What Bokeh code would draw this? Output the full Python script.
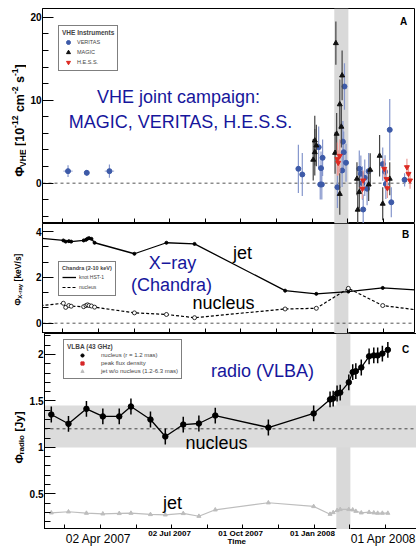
import numpy as np
from bokeh.plotting import figure
from bokeh.layouts import column, row
from bokeh.models import (ColumnDataSource, BoxAnnotation, Span, Label, Legend,
                          LegendItem, FixedTicker, SingleIntervalTicker, Range1d)
from bokeh.embed import file_html
from bokeh.resources import INLINE

# ------------------------------------------------------------------ data
TICK_DATES = ["2007-04-02", "2007-07-02", "2007-10-01", "2008-01-01", "2008-04-01"]
TICK_LABELS = ["02 Apr 2007", "02 Jul 2007", "01 Oct 2007", "01 Jan 2008", "01 Apr 2008"]
X_START, X_END = "2007-01-20T07:00", "2008-05-10T17:00"
FLARE = ["2008-01-29", "2008-02-16"]

# (A) VHE  [1e-12 cm^-2 s^-1]
VERITAS07_DATES = ["2007-02-22", "2007-03-18", "2007-04-16"]
VERITAS07_FLUX = [1.45, 1.25, 1.45]
VERITAS07_ERR = [0.7, 0.35, 0.8]
VERITAS07_BIN = [6, 3, 6]          # half width of time bin, days

VERITAS_DATES = ["2007-12-14", "2007-12-19", "2008-01-09", "2008-01-11", "2008-01-12",
                 "2008-01-13", "2008-01-14", "2008-02-02", "2008-02-08", "2008-02-09",
                 "2008-02-10", "2008-02-11", "2008-02-13", "2008-03-01", "2008-03-03",
                 "2008-03-05", "2008-03-06", "2008-03-08", "2008-03-11", "2008-03-13",
                 "2008-03-31", "2008-04-03", "2008-04-04", "2008-04-09", "2008-04-11",
                 "2008-04-28"]
VERITAS_FLUX = [1.73, 1.05, 4.34, -0.16, 1.81, -0.16, 3.06, -0.48, 1.53, 5.0,
                3.73, 11.65, 2.46, 1.73, 1.13, 0.0, -3.17, 0.65, -0.67, 1.45,
                2.3, 1.37, -0.1, 6.43, -2.3, 0.41]
VERITAS_ERR = [2.9, 2.6, 2.5, 1.8, 2.0, 1.8, 2.2, 2.5, 2.0, 2.5,
               2.5, 2.8, 2.3, 2.2, 2.2, 2.0, 1.8, 2.2, 2.0, 2.2,
               2.0, 2.0, 1.8, 3.7, 1.8, 0.8]

MAGIC_DATES = ["2008-01-02", "2008-01-04", "2008-01-04", "2008-01-06", "2008-01-30",
               "2008-01-31", "2008-02-01", "2008-02-05", "2008-02-05", "2008-02-07",
               "2008-02-08", "2008-02-27", "2008-02-28", "2008-03-01", "2008-03-13",
               "2008-03-15", "2008-03-27", "2008-03-31", "2008-04-09"]
MAGIC_FLUX = [2.82, 3.73, 5.14, 4.54, 3.65, 16.87, 5.95, 9.5, -1.3, 6.8,
              12.98, 0.53, -3.2, -1.08, -0.16, 1.61, 3.3, -2.48, 0.53]
MAGIC_ERR = [2.5, 2.8, 3.0, 2.5, 2.5, 2.6, 2.5, 3.0, 2.5, 2.5,
             3.0, 2.0, 2.2, 2.0, 2.0, 2.0, 2.5, 2.0, 2.0]

HESS_DATES = ["2008-02-02", "2008-02-03", "2008-02-05", "2008-03-05", "2008-03-06",
              "2008-04-02", "2008-04-05", "2008-04-06", "2008-05-01", "2008-05-03",
              "2008-05-05"]
HESS_FLUX = [2.9, 2.46, 3.3, -0.67, 0.33, 1.73, 0.5, -0.6, 1.93, 1.13, 0.33]
HESS_ERR = [2.0, 1.5, 2.0, 1.2, 1.2, 1.2, 1.2, 1.2, 1.0, 1.0, 1.0]

# (B) Chandra 2-10 keV  [keV/s]
CHANDRA_DATES = ["2007-01-05", "2007-02-16", "2007-02-19", "2007-02-23", "2007-02-26",
                 "2007-03-14", "2007-03-17", "2007-03-19", "2007-03-21", "2007-03-24",
                 "2007-03-28", "2007-05-18", "2007-06-28", "2007-08-03", "2007-11-27",
                 "2008-01-06", "2008-02-16", "2008-03-31", "2008-05-25"]
KNOT_HST1 = [3.75, 3.61, 3.56, 3.58, 3.56, 3.61, 3.64, 3.69, 3.71, 3.68,
             3.51, 3.03, 3.51, 3.46, 1.42, 1.28, 1.38, 1.54, 1.42]
XRAY_NUCLEUS = [0.72, 0.87, 0.69, 0.77, 0.74, 0.72, 0.77, 0.80, 0.77, 0.75,
                0.70, 0.45, 0.38, 0.24, 0.62, 0.65, 1.52, 0.77, 0.53]

# (C) VLBA 43 GHz  [Jy]
VLBA_DATES = ["2007-01-29", "2007-02-20", "2007-03-15", "2007-04-05", "2007-04-26",
              "2007-05-11", "2007-06-05", "2007-06-24", "2007-07-17", "2007-08-06",
              "2007-08-27", "2007-11-03", "2007-12-31", "2008-01-21", "2008-01-25",
              "2008-01-30", "2008-02-03", "2008-02-14", "2008-02-19", "2008-02-23",
              "2008-03-01", "2008-03-11", "2008-03-17", "2008-03-22", "2008-03-28",
              "2008-04-04"]
VLBA_NUCLEUS = [1.354, 1.254, 1.415, 1.333, 1.333, 1.44, 1.30, 1.117, 1.246, 1.257,
                1.343, 1.214, 1.365, 1.516, 1.526, 1.58, 1.59, 1.70, 1.81, 1.82,
                1.86, 1.98, 1.99, 1.99, 2.01, 2.05]
VLBA_NUCLEUS_ERR = [0.085, 0.085, 0.085, 0.085, 0.085, 0.085, 0.085, 0.085, 0.085, 0.085,
                    0.085, 0.085, 0.085, 0.085, 0.085, 0.085, 0.085, 0.085, 0.085, 0.085,
                    0.085, 0.085, 0.085, 0.085, 0.085, 0.085]
VLBA_JET = [0.296, 0.307, 0.292, 0.285, 0.289, 0.292, 0.278, 0.274, 0.289, 0.259,
            0.328, 0.404, 0.364, 0.281, 0.299, 0.321, 0.332, 0.332, 0.328, 0.313,
            0.296, 0.302, 0.296, 0.292, 0.292, 0.292]
NUCLEUS_BAND = [1.0, 1.45]
NUCLEUS_MEAN = 1.2

# ------------------------------------------------------------------ helpers
EPOCH = np.datetime64("2007-01-01T00:00")


def to_days(dates):
    return [float((np.datetime64(d) - EPOCH) / np.timedelta64(1, "D")) for d in dates]


FONT = "Liberation Sans"
BLUE_TXT = "#16169c"
C_VER, C_VER_E = "#3d5aa8", "#8596cc"
C_MAG, C_MAG_E = "#111111", "#444444"
C_HES, C_HES_E = "#dd2a22", "#eb9a94"

LEFT, STRIP_W, FRAME_W, RIGHT = 16, 26, 372, 2
x0, x1 = to_days([X_START, X_END])
xr = Range1d(x0, x1)
px_per_day = FRAME_W / (x1 - x0)
tick_days = to_days(TICK_DATES)
all_ticks = [tick_days[0] - (tick_days[1] - tick_days[0]) / 2]
for a, b in zip(tick_days[:-1], tick_days[1:]):
    all_ticks += [a, (a + b) / 2]
all_ticks.append(tick_days[-1])

BW = {"Φ": 0.78, "V": 0.667, "H": 0.722, "E": 0.667, "X": 0.667, "J": 0.556,
      "[": 0.333, "]": 0.333, "-": 0.333, "/": 0.278, " ": 0.278, "c": 0.556,
      "m": 0.889, "s": 0.556, "k": 0.556, "e": 0.556, "r": 0.389, "a": 0.556,
      "d": 0.611, "i": 0.278, "o": 0.611, "y": 0.556}


def tw(t, size):
    return sum(BW.get(c, 0.556) for c in t) * size


def strip(height, width=STRIP_W, xrange=None):
    s = figure(frame_width=width, frame_height=height, output_backend="svg",
               toolbar_location=None, x_axis_type=None, y_axis_type=None,
               min_border=0, x_range=xrange or Range1d(0, 1), y_range=Range1d(0, 1),
               background_fill_color="white", border_fill_color="white")
    s.outline_line_color = None
    s.grid.visible = False
    return s


def rot_label(p, pieces, sx, sy_center, main, sub, dsub, dsup):
    total = sum(tw(t, main if k == 0 else sub) for t, k in pieces)
    y = sy_center - total / 2
    for t, k in pieces:
        size = main if k == 0 else sub
        lead = len(t) - len(t.lstrip(" "))
        y += tw(" " * lead, size)
        t2 = t.strip(" ")
        shift = {0: 0, 1: dsub, 2: -dsup}[k]
        p.add_layout(Label(x=sx + shift, y=y, x_units="screen", y_units="screen", text=t2,
                           angle=np.pi / 2, text_font=FONT, text_font_size=f"{size}px",
                           text_font_style="bold", text_align="left",
                           text_baseline="alphabetic", text_color="black"))
        y += tw(t2, size)


def text(p, s, sx, sy, size=18, color="black", style="normal", xu="screen"):
    p.add_layout(Label(x=sx, y=sy, x_units=xu, y_units="screen", text=s, text_font=FONT,
                       text_font_size=f"{size}px", text_color=color, text_font_style=style,
                       text_align="center", text_baseline="middle"))


def make_fig(frame_h, yrange, top, interval, nminor):
    p = figure(frame_width=FRAME_W, frame_height=frame_h, x_range=xr,
               y_range=Range1d(*yrange), output_backend="svg", toolbar_location=None,
               min_border_left=LEFT, min_border_right=RIGHT, min_border_top=top,
               min_border_bottom=0, background_fill_color="white",
               border_fill_color="white")
    p.grid.visible = False
    p.outline_line_color = "black"
    p.outline_line_width = 1
    p.outline_line_alpha = 1
    ya = p.yaxis[0]
    ya.ticker = SingleIntervalTicker(interval=interval, num_minor_ticks=nminor)
    ya.major_tick_in, ya.major_tick_out = 11, 0
    ya.minor_tick_in, ya.minor_tick_out = 6, 0
    ya.major_tick_line_color = "black"
    ya.minor_tick_line_color = "black"
    ya.axis_line_color = "black"
    ya.major_label_text_font = FONT
    ya.major_label_text_font_size = "10px"
    ya.major_label_text_font_style = "bold"
    ya.major_label_text_color = "black"
    ya.major_label_standoff = 1
    xa = p.xaxis[0]
    xa.ticker = FixedTicker(ticks=all_ticks, minor_ticks=[])
    xa.major_tick_in, xa.major_tick_out = 5, 0
    xa.major_tick_line_color = "black"
    xa.axis_line_color = "black"
    xa.major_label_overrides = {t: "" for t in all_ticks}
    xa.major_label_text_font_size = "0px"
    xa.major_label_standoff = 0
    p.add_layout(BoxAnnotation(left=to_days(FLARE)[0], right=to_days(FLARE)[1],
                               fill_color="#d9d9d9", fill_alpha=1, line_color=None,
                               level="underlay"))
    return p


def style_legend(lg, title, loc, pad, gw, rowh, title_size, label_size, standoff):
    lg.title = title
    lg.location = loc
    lg.title_text_font = FONT
    lg.title_text_font_size = f"{title_size}px"
    lg.title_text_font_style = "bold"
    lg.title_standoff = 1
    lg.label_text_font = FONT
    lg.label_text_font_size = f"{label_size}px"
    lg.glyph_width = gw
    lg.glyph_height = rowh
    lg.label_height = rowh
    lg.label_standoff = standoff
    lg.spacing = 0
    lg.padding = pad
    lg.margin = 0
    lg.border_line_color = "black"
    lg.border_line_width = 1
    lg.background_fill_color = "white"
    lg.background_fill_alpha = 1


# ------------------------------------------------------------------ panel A
pA = make_fig(215, (-4.86, 21.05), 8, 10, 5)
pA.add_layout(Span(location=0, dimension="width", line_color="#555555",
                   line_dash="3 3", line_width=1, level="underlay"))


def vhe(p, dates, flux, err, color, ecolor, marker, binw=None):
    x = to_days(dates)
    d = dict(x=x, y=flux, lo=[f - e for f, e in zip(flux, err)],
             hi=[f + e for f, e in zip(flux, err)])
    if binw is not None:
        d["x0"] = [a - b for a, b in zip(x, binw)]
        d["x1"] = [a + b for a, b in zip(x, binw)]
    src = ColumnDataSource(d)
    p.segment(x0="x", y0="lo", x1="x", y1="hi", source=src, line_color=ecolor, line_width=1.2)
    if binw is not None:
        p.segment(x0="x0", y0="y", x1="x1", y1="y", source=src, line_color=ecolor,
                  line_width=0.8)
    return p.scatter("x", "y", source=src, marker=marker, size=5, fill_color=color,
                     line_color=color)


r_ver = vhe(pA, VERITAS07_DATES, VERITAS07_FLUX, VERITAS07_ERR, C_VER, C_VER_E, "circle",
            VERITAS07_BIN)
vhe(pA, VERITAS_DATES, VERITAS_FLUX, VERITAS_ERR, C_VER, C_VER_E, "circle")
r_mag = vhe(pA, MAGIC_DATES, MAGIC_FLUX, MAGIC_ERR, C_MAG, C_MAG_E, "triangle")
r_hes = vhe(pA, HESS_DATES, HESS_FLUX, HESS_ERR, C_HES, C_HES_E, "inverted_triangle")

lgA = Legend(items=[LegendItem(label="VERITAS", renderers=[r_ver]),
                    LegendItem(label="MAGIC", renderers=[r_mag]),
                    LegendItem(label="H.E.S.S.", renderers=[r_hes])])
style_legend(lgA, "VHE Instruments", (16, 152), 3, 12, 10, 6.5, 5.5, 3)
pA.add_layout(lgA)

text(pA, "VHE joint campaign:", 136, 127, color=BLUE_TXT)
text(pA, "MAGIC, VERITAS, H.E.S.S.", 138, 102, color=BLUE_TXT)
text(pA, "A", 361, 202, size=10, style="bold")

sA = strip(223)
rot_label(sA, [("Φ", 0), ("VHE", 1), (" [10", 0), ("-12", 2), (" cm", 0), ("-2", 2),
               (" s", 0), ("-1", 2), ("]", 0)], 19, 111, 12.5, 8.5, 3, 5)

# ------------------------------------------------------------------ panel B
pB = make_fig(110, (-0.45, 4.35), 0, 2, 3)
pB.add_layout(Span(location=0, dimension="width", line_color="#555555",
                   line_dash="3 3", line_width=1, level="underlay"))
cx = to_days(CHANDRA_DATES)
r_knot = pB.line(cx, KNOT_HST1, line_color="black", line_width=1.3)
pB.scatter(cx, KNOT_HST1, size=3, marker="circle", color="black")
r_nuc = pB.line(cx, XRAY_NUCLEUS, line_color="black", line_width=1.2, line_dash="3 2")
pB.scatter(cx, XRAY_NUCLEUS, size=4, marker="circle", fill_color="white",
           line_color="black", line_width=0.8)

lgB = Legend(items=[LegendItem(label="knot HST-1", renderers=[r_knot]),
                    LegendItem(label="nucleus", renderers=[r_nuc])])
style_legend(lgB, "Chandra (2-10 keV)", (16, 37), 3, 14, 10, 5.5, 5, 3)
pB.add_layout(lgB)

text(pB, "X−ray", 130, 71, color=BLUE_TXT)
text(pB, "(Chandra)", 129, 49, color=BLUE_TXT)
text(pB, "jet", 200, 81)
text(pB, "nucleus", 181, 31)
text(pB, "B", 363, 99, size=10, style="bold")

sB = strip(110)
rot_label(sB, [("Φ", 0), ("X-ray", 1), (" [keV/s]", 0)], 17, 54, 8.5, 6, 2.5, 3)

# ------------------------------------------------------------------ panel C
pC = make_fig(196, (0.116, 2.226), 0, 0.5, 5)
pC.add_layout(BoxAnnotation(bottom=NUCLEUS_BAND[0], top=NUCLEUS_BAND[1],
                            fill_color="#dcdcdc", fill_alpha=1, line_color=None,
                            level="underlay"))
pC.add_layout(Span(location=NUCLEUS_MEAN, dimension="width", line_color="#444444",
                   line_dash="3 3", line_width=1, level="underlay"))
vx = to_days(VLBA_DATES)
pC.line(vx, VLBA_JET, line_color="#bdbdbd", line_width=1.2)
r_jet = pC.scatter(vx, VLBA_JET, marker="triangle", size=4, color="#bdbdbd")
pC.segment(vx, [v - e for v, e in zip(VLBA_NUCLEUS, VLBA_NUCLEUS_ERR)],
           vx, [v + e for v, e in zip(VLBA_NUCLEUS, VLBA_NUCLEUS_ERR)],
           line_color="black", line_width=1.5)
pC.line(vx, VLBA_NUCLEUS, line_color="black", line_width=1.3)
r_vn = pC.scatter(vx, VLBA_NUCLEUS, marker="circle", size=5.5, color="black")
# no peak-flux-density points are visible in the panel: legend entry only
r_peak = pC.scatter("x", "y", source=ColumnDataSource(dict(x=[np.nan], y=[np.nan])),
                    marker="square", size=5, color="#d62728")

lgC = Legend(items=[LegendItem(label="nucleus (r = 1.2 mas)", renderers=[r_vn]),
                    LegendItem(label="peak flux density", renderers=[r_peak]),
                    LegendItem(label="jet w/o nucleus (1.2-6.3 mas)", renderers=[r_jet])])
style_legend(lgC, "VLBA (43 GHz)", (19, 150), 3, 30, 8, 6.5, 6, 4)
pC.add_layout(lgC)

text(pC, "radio (VLBA)", 218, 159, color=BLUE_TXT)
text(pC, "nucleus", 172, 87)
text(pC, "jet", 128, 27)
text(pC, "C", 361, 180, size=10, style="bold")

sC = strip(196)
rot_label(sC, [("Φ", 0), ("radio", 1), (" [Jy]", 0)], 18.5, 92, 11.5, 8, 2.5, 4)

# ------------------------------------------------------------------ time axis labels
total_w = STRIP_W + LEFT + FRAME_W + RIGHT
bottom = strip(17, width=total_w,
               xrange=Range1d(x0 - (STRIP_W + LEFT) / px_per_day, x1 + RIGHT / px_per_day))
for i, (d, l) in enumerate(zip(tick_days, TICK_LABELS)):
    big = i in (0, len(TICK_LABELS) - 1)
    bottom.add_layout(Label(x=d, y=8 if big else 13.5, x_units="data", y_units="screen",
                            text=l, text_font=FONT,
                            text_font_size="12px" if big else "8px",
                            text_font_style="normal" if big else "bold",
                            text_color="black", text_align="center",
                            text_baseline="middle"))
bottom.add_layout(Label(x=tick_days[2] - 5, y=5, x_units="data",
                        y_units="screen", text="Time", text_font=FONT,
                        text_font_size="8px", text_font_style="bold", text_color="black",
                        text_align="center", text_baseline="middle"))

layout = column(row(sA, pA, spacing=0), row(sB, pB, spacing=0), row(sC, pC, spacing=0),
                bottom, spacing=0)
open("out.html", "w").write(file_html(layout, INLINE))
